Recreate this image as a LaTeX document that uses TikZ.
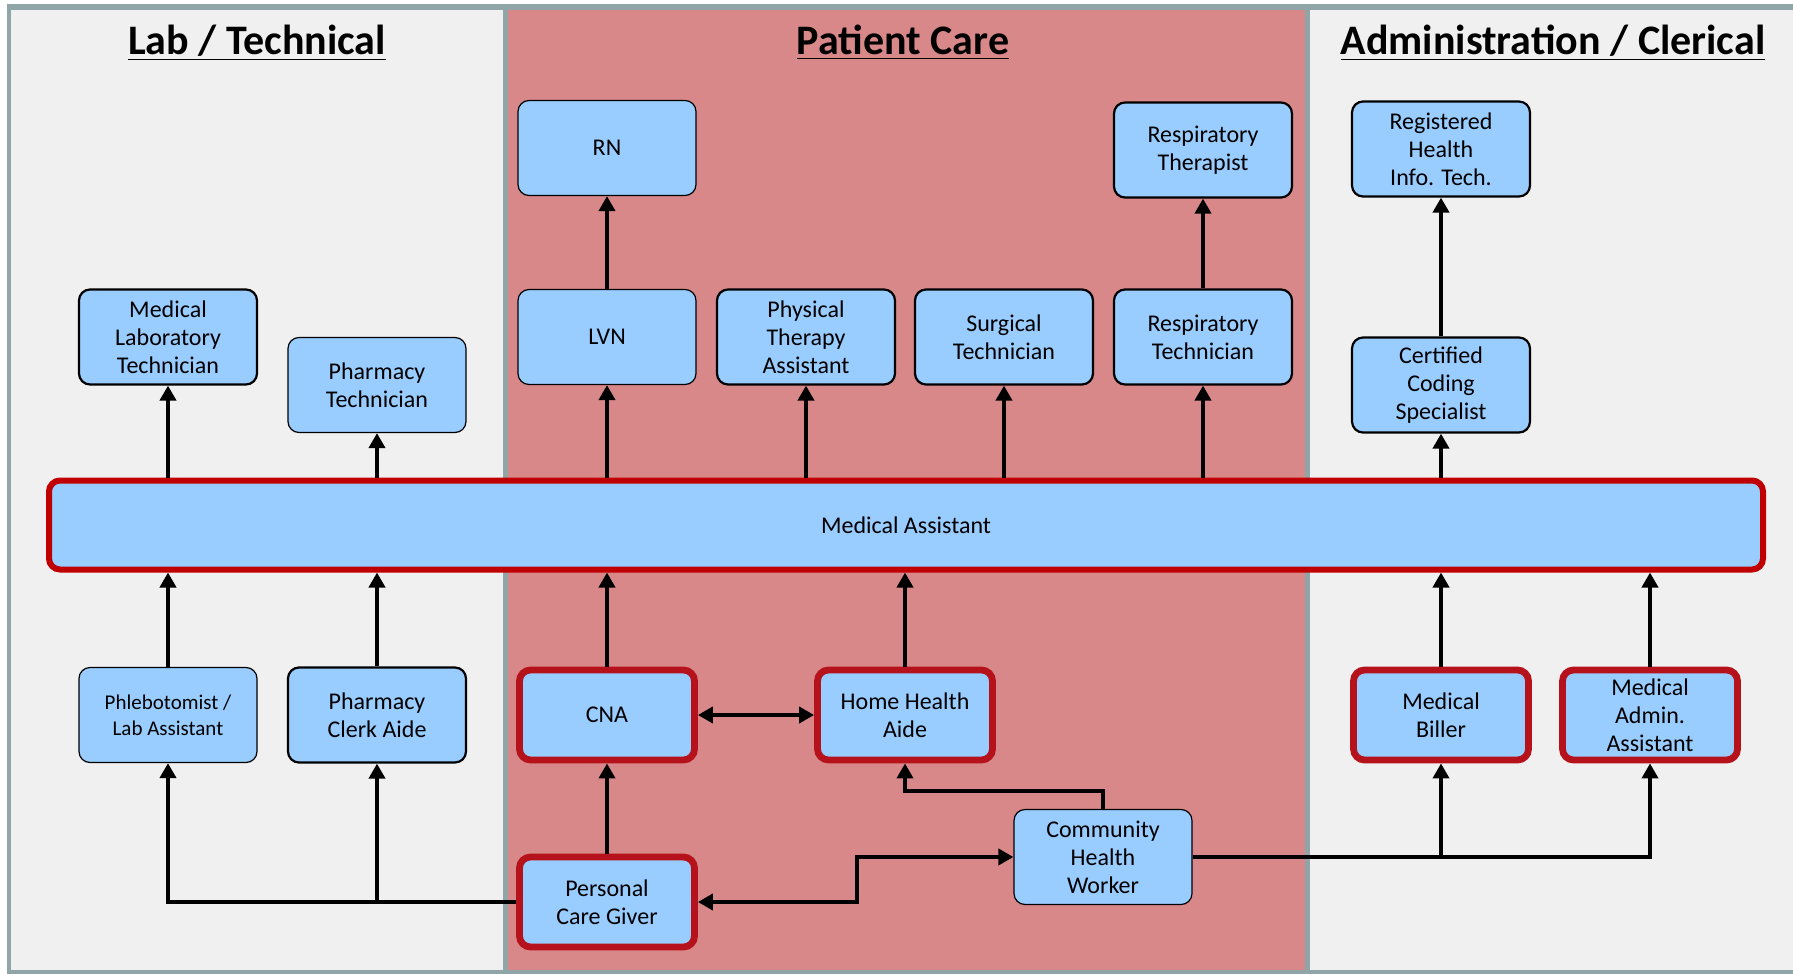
\documentclass[tikz,border=0pt]{standalone}
\usepackage{fontspec}
\setmainfont{Carlito}
\usepackage{xcolor}
\usepackage{tikz}
\usetikzlibrary{arrows.meta,positioning,calc}
\definecolor{CareRed}{HTML}{D9888A}
\definecolor{PanelGray}{HTML}{F0F0F0}
\definecolor{FrameGray}{HTML}{8FA5A8}
\definecolor{BoxBlue}{HTML}{99CCFF}
\definecolor{EdgeRed}{HTML}{B5121B}
\definecolor{BarRed}{HTML}{C00000}

\begin{document}
\begin{tikzpicture}[
  x=0.5pt, y=-0.5pt,
  box/.style={draw, line width=1.1pt, rounded corners=5.5pt, fill=BoxBlue, align=center,
    minimum width=89pt, minimum height=47.5pt, inner sep=2pt, font=\fontsize{12}{14}\selectfont},
  thinbox/.style={box, line width=0.6pt},
  keybox/.style={box, draw=EdgeRed, line width=3.4pt, minimum width=87.5pt, minimum height=45pt},
  title/.style={font=\fontsize{21}{25}\selectfont\bfseries, anchor=base},
  arrow/.style={-{Triangle[length=7.5pt,width=8pt]}, line width=2pt},
  twoway/.style={{Triangle[length=7.5pt,width=8pt]}-{Triangle[length=7.5pt,width=8pt]}, line width=2pt}
]
\useasboundingbox (0,0) rectangle (1793,974);
% the three panels
\fill[white] (0,0) rectangle (1793,974);
\fill[FrameGray] (7,4) rectangle (1793,974);
\fill[PanelGray] (11,10) rectangle (503,970);
\fill[CareRed] (508,10) rectangle (1305,970);
\fill[PanelGray] (1310,10) rectangle (1793,970);

\node[title] (labtitle) at (257,55) {\underline{Lab / Technical}};
\node[title] (caretitle) at (903,55) {\underline{Patient Care}};
\node[title] (admintitle) at (1553,55) {\underline{Administration / Clerical}};

% top rows
\node[thinbox] (rn) at (607,148) {RN};
\node[box] (rt) at (1203,150) {Respiratory\\Therapist};
\node[box] (rhit) at (1441,149) {Registered\\Health\\Info. Tech.};

\node[box] (mlt) at (168,337) {Medical\\Laboratory\\Technician};
\node[thinbox] (pharmtech) at (377,385) {Pharmacy\\Technician};
\node[thinbox] (lvn) at (607,337) {LVN};
\node[box] (pta) at (806,337) {Physical\\Therapy\\Assistant};
\node[box] (surg) at (1004,337) {Surgical\\Technician};
\node[box] (resptech) at (1203,337) {Respiratory\\Technician};
\node[box] (ccs) at (1441,385) {Certified\\Coding\\Specialist};

% medical assistant bar
\node[box, draw=BarRed, line width=3pt, minimum width=857pt, minimum height=44.5pt] (ma) at (906,525) {Medical Assistant};

% bottom rows
\node[thinbox, font=\fontsize{10.5}{13}\selectfont] (phleb) at (168,715) {Phlebotomist /\\Lab Assistant};
\node[box] (pclerk) at (377,715) {Pharmacy\\Clerk Aide};
\node[keybox] (cna) at (607,715) {CNA};
\node[keybox] (hha) at (905,715) {Home Health\\Aide};
\node[keybox] (biller) at (1441,715) {Medical\\Biller};
\node[keybox] (adminasst) at (1650,715) {Medical\\Admin.\\Assistant};

\node[keybox] (pcg) at (607,902) {Personal\\Care Giver};
\node[thinbox] (chw) at (1103,857) {Community\\Health\\Worker};

% up from the bar
\foreach \n in {mlt,pharmtech,lvn,pta,surg,resptech,ccs}
  \draw[arrow] (ma.north -| \n.south) -- (\n.south);
\draw[arrow] (lvn) -- (rn);
\draw[arrow] (resptech) -- (rt);
\draw[arrow] (ccs) -- (rhit);

% up into the bar
\foreach \n in {phleb,pclerk,cna,hha,biller,adminasst}
  \draw[arrow] (\n.north) -- (\n.north |- ma.south);

% entry paths
\draw[arrow] (pcg) -- (cna);
\draw[twoway] (cna) -- (hha);
\draw[arrow] (pcg.west) -| (phleb.south);
\draw[arrow] (pcg.west -| pclerk.south) -- (pclerk.south);
\draw[arrow] (chw.north) -- ++(0,-18) -| (hha.south);
\draw[twoway] (pcg.east) -- ++(159,0) |- (chw.west);
\draw[arrow] (chw.east) -| (adminasst.south);
\draw[arrow] (chw.east -| biller.south) -- (biller.south);
\end{tikzpicture}
\end{document}
